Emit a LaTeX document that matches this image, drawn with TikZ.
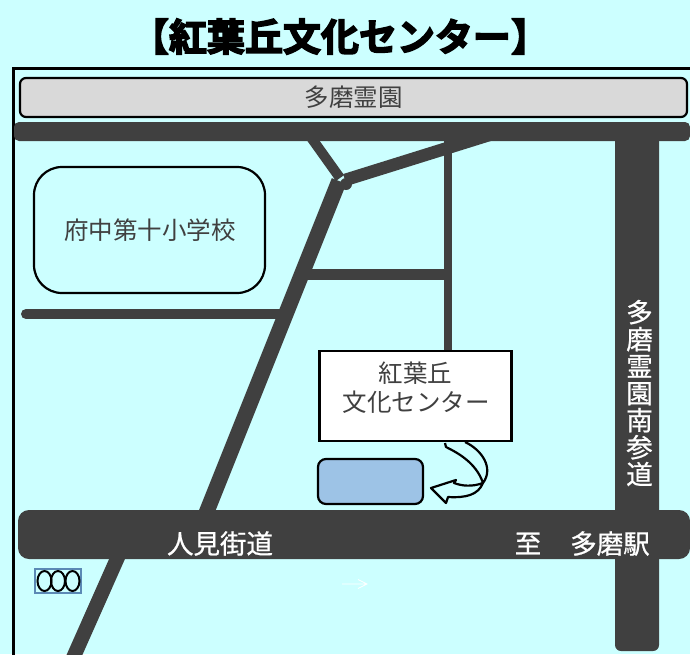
\documentclass[tikz,border=0pt]{standalone}
\usepackage{fontspec}
\setmainfont{Noto Sans CJK JP}
\newfontfamily\titlefont[FakeBold=4]{Noto Sans CJK JP Bold}
\newfontfamily\roadfont[FakeBold=0.8]{Noto Sans CJK JP}
\definecolor{bgc}{HTML}{CCFFFF}
\definecolor{road}{HTML}{404040}
\definecolor{park}{HTML}{D9D9D9}
\definecolor{lot}{HTML}{9DC3E6}
\definecolor{markb}{HTML}{5B89B5}
\tikzset{
 x=1pt,y=-1pt,
 roadline/.style={draw=road,line cap=butt},
 roadbox/.style={fill=road,rounded corners=#1},
 outlined/.style={draw=black,line width=2.2pt},
 maplabel/.style={font=\fontsize{24.5}{29}\selectfont,text=road,inner sep=0pt},
 wlabel/.style={font=\fontsize{26.5}{27}\roadfont,text=white,inner sep=0pt},
}
\begin{document}
\begin{tikzpicture}
\useasboundingbox (0,0) rectangle (690,654);
\fill[bgc] (0,0) rectangle (690,654);
\begin{scope}
\clip (0,0) rectangle (690,654);
\draw[black,line width=2.4pt] (13.5,660) -- (13.5,68.5) -- (695,68.5);
\node[inner sep=0pt,font=\fontsize{38}{40}\titlefont] (title) at (340,36.5) {【紅葉丘文化センター】};
\path[outlined,fill=park,rounded corners=6pt] (20,78) rectangle (687,117);
\node[maplabel] (park) at (353.5,97.5) {多磨霊園};
% roads
\draw[roadline,line width=15.5pt] (339,181) -- (205,516);
\draw[roadline,line width=14.5pt] (121,550) -- (66,674);
\draw[roadline,line width=12.5pt] (345,180) -- (500,131.6);
\draw[roadline,line width=10pt] (310,136) -- (340,178);
\fill[road] (346,184) circle (6);
\draw[roadline,line width=8pt] (447.5,135) -- (447.5,355);
\draw[roadline,line width=11pt] (306,274.5) -- (447,274.5);
\draw[roadline,line width=10pt,line cap=round] (26,314) -- (284,314);
\path[roadbox=5pt] (14,122) rectangle (690,141);
\path[roadbox=6pt] (615,122) rectangle (659,651);
\path[roadbox=11pt] (18,510) rectangle (690,559);
% school
\path[outlined,fill=bgc,rounded corners=28pt] (34,167) rectangle (265,293);
\node[maplabel] (school) at (150,230) {府中第十小学校};
% centre
\node[draw=black,line width=2.2pt,fill=white,minimum width=192pt,minimum height=90pt,inner sep=0pt] (centre) at (415.5,396) {};
\node[maplabel] (centrea) at (415.5,373) {紅葉丘};
\node[maplabel] (centreb) at (416,402) {文化センター};
% parking
\path[outlined,fill=lot,rounded corners=8pt] (318,459) rectangle (423,504);
% curved arrow
\path[outlined,fill=bgc,line join=round]
 (445,443) -- (446,447) .. controls (456,452) and (476,462) .. (483,483)
 .. controls (472,487) and (462,486) .. (454,483)
 -- (456,480) -- (431,488) -- (446,503) -- (448,497)
 .. controls (466,498) and (478,495) .. (483,483)
 .. controls (494,468) and (482,450) .. (465,442);
% mark
\node[draw=markb,line width=1.5pt,inner sep=0pt,minimum width=46pt,minimum height=24pt] (mark) at (58,581) {};
\draw[black,line width=2pt] (44.5,581) ellipse (7 and 10);
\draw[black,line width=2pt] (58,581) ellipse (7 and 10);
\draw[black,line width=2pt] (72.5,581) ellipse (7 and 10);
\coordinate (arrowa) at (342,584);
\coordinate (arrowb) at (367,584);
\draw[white,line width=0.8pt] (arrowa) -- (arrowb) (358,579.5) -- (arrowb) -- (358,588.5);
% road labels
\node[wlabel] (hitomi) at (220,543.5) {人見街道};
\node[wlabel] (to) at (528,543.5) {至};
\node[wlabel] (tama) at (610,543.5) {多磨駅};
\node[wlabel,align=center] (sando) at (639.5,393) {多\\磨\\霊\\園\\南\\参\\道};
\end{scope}
\end{tikzpicture}
\end{document}
